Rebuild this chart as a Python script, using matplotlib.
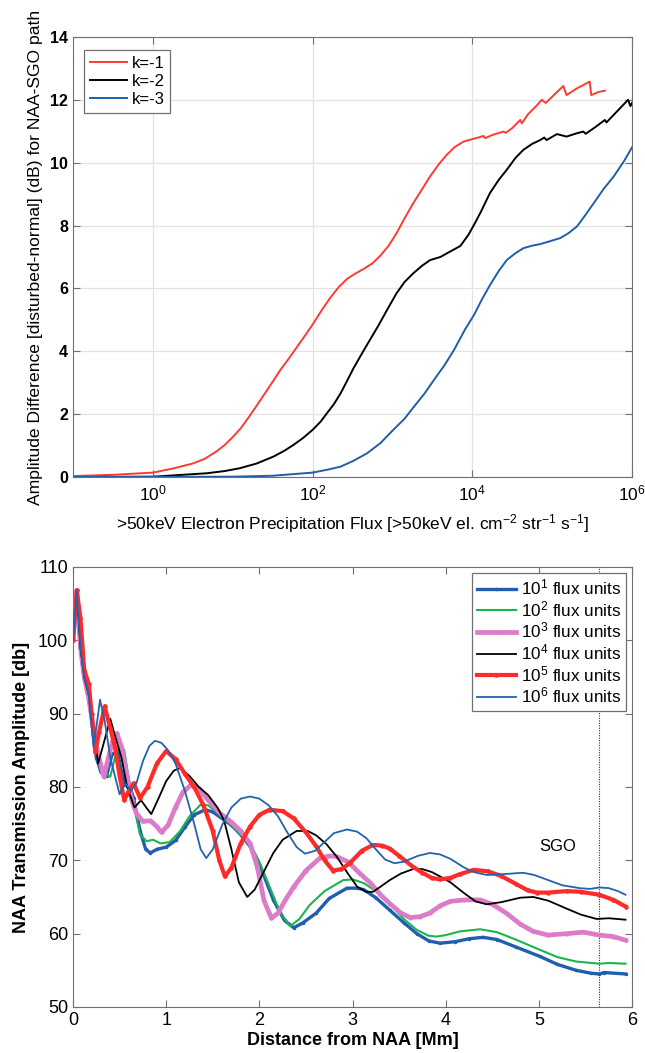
import matplotlib
matplotlib.use("Agg")
import matplotlib.pyplot as plt
from matplotlib.ticker import FixedLocator, NullLocator

plt.rcParams['font.family'] = ['Liberation Sans', 'DejaVu Sans']
plt.rcParams['mathtext.fontset'] = 'custom'
plt.rcParams['mathtext.rm'] = 'Liberation Sans'
plt.rcParams['mathtext.it'] = 'Liberation Sans:italic'
plt.rcParams['mathtext.bf'] = 'Liberation Sans:bold'

# ---------------- Top panel data (log10 flux, dB) ----------------
k1_logflux = [-1.0, -0.5, 0.0, 0.25, 0.5, 0.65, 0.8, 0.9, 1.0, 1.1, 1.2, 1.3, 1.4, 1.5, 1.6,
              1.7, 1.8, 1.9, 2.0, 2.1, 2.22, 2.33, 2.43, 2.54, 2.64, 2.75, 2.84, 2.95, 3.05,
              3.15, 3.26, 3.37, 3.47, 3.58, 3.68, 3.78, 3.89, 4.0, 4.1, 4.14, 4.16, 4.25, 4.39,
              4.42, 4.5, 4.6, 4.62, 4.7, 4.8, 4.87, 4.92, 5.0, 5.14, 5.18, 5.3, 5.47, 5.49,
              5.58, 5.66]
k1_db = [0.03, 0.07, 0.14, 0.27, 0.43, 0.58, 0.82, 1.02, 1.27, 1.55, 1.9, 2.27, 2.65, 3.03, 3.42,
         3.76, 4.12, 4.48, 4.85, 5.25, 5.7, 6.05, 6.3, 6.48, 6.62, 6.8, 7.02, 7.35, 7.75,
         8.22, 8.71, 9.15, 9.56, 9.95, 10.25, 10.5, 10.67, 10.75, 10.82, 10.85, 10.78, 10.88, 10.99,
         10.95, 11.1, 11.36, 11.25, 11.55, 11.8, 12.0, 11.9, 12.1, 12.44, 12.15, 12.35, 12.58, 12.15,
         12.25, 12.29]

k2_logflux = [-1.0, 0.0, 0.68, 0.9, 1.09, 1.3, 1.51, 1.65, 1.76, 1.88, 2.0, 2.1, 2.18, 2.27,
              2.35, 2.43, 2.51, 2.6, 2.68, 2.75, 2.82, 2.94, 3.05, 3.15, 3.26, 3.37, 3.47, 3.6,
              3.72, 3.85, 3.95, 4.01, 4.1, 4.22, 4.33, 4.43, 4.54, 4.64, 4.75, 4.85, 4.9, 4.93,
              5.06, 5.18, 5.3, 5.39, 5.42, 5.55, 5.66, 5.68, 5.8, 5.95, 5.98, 6.0]
k2_db = [0.0, 0.01, 0.12, 0.19, 0.28, 0.43, 0.65, 0.84, 1.02, 1.24, 1.5, 1.76, 2.03, 2.33,
         2.66, 3.05, 3.45, 3.85, 4.2, 4.5, 4.8, 5.35, 5.84, 6.2, 6.48, 6.72, 6.9, 7.0,
         7.17, 7.35, 7.7, 7.97, 8.4, 9.03, 9.45, 9.77, 10.15, 10.41, 10.6, 10.72, 10.8, 10.72,
         10.91, 10.83, 10.93, 10.99, 10.92, 11.15, 11.36, 11.28, 11.6, 12.0, 11.8, 11.9]

k3_logflux = [-1.0, 1.0, 1.5, 2.0, 2.2, 2.35, 2.5, 2.68, 2.85, 3.01, 3.15, 3.27, 3.4, 3.52,
              3.65, 3.77, 3.91, 4.02, 4.12, 4.22, 4.33, 4.43, 4.54, 4.64, 4.75, 4.85, 4.97,
              5.1, 5.2, 5.31, 5.42, 5.52, 5.64, 5.77, 5.9, 6.0]
k3_db = [0.0, 0.01, 0.04, 0.14, 0.24, 0.33, 0.5, 0.75, 1.08, 1.5, 1.85, 2.24, 2.65, 3.09,
         3.55, 4.04, 4.7, 5.15, 5.65, 6.1, 6.55, 6.9, 7.12, 7.28, 7.36, 7.41, 7.5,
         7.6, 7.75, 7.97, 8.35, 8.71, 9.15, 9.56, 10.05, 10.49]

k_labels = ['k=-1', 'k=-2', 'k=-3']
k_colors = ['#ff3b30', '#000000', '#1f5fa8']

x_tick_exponents = [0, 2, 4, 6]
y_ticks_top = [0, 2, 4, 6, 8, 10, 12, 14]

# ---------------- Bottom panel data (distance Mm, dB) ----------------
d_f1 = [0, 0.04, 0.08, 0.12, 0.17, 0.22, 0.25, 0.3, 0.36, 0.42, 0.48, 0.52, 0.56, 0.6, 0.65,
        0.72, 0.78, 0.83, 0.9, 1.0, 1.1, 1.2, 1.3, 1.42, 1.5, 1.6, 1.7, 1.8, 1.9, 2.0, 2.15,
        2.27, 2.37, 2.47, 2.61, 2.75, 2.94, 3.05, 3.12, 3.25, 3.4, 3.55, 3.69, 3.82, 3.94, 4.1,
        4.25, 4.4, 4.55, 4.75, 5.01, 5.2, 5.4, 5.56, 5.65, 5.7, 5.93]
a_f1 = [100, 106.8, 99, 95, 92, 87, 84, 82, 81.5, 84.5, 84.8, 82, 80.2, 80.5, 78.5,
        74, 71.5, 71, 71.5, 71.8, 72.7, 74.5, 76.2, 76.9, 76.6, 75.7, 74.8, 73.5, 71.9, 69.5, 64.6,
        61.8, 60.8, 61.5, 62.8, 64.8, 66.2, 66.2, 66.0, 64.9, 63.2, 61.5, 60.0, 59.0, 58.7, 58.9,
        59.3, 59.5, 59.2, 58.2, 56.9, 55.8, 55.0, 54.6, 54.5, 54.7, 54.5]

d_f2 = [0, 0.04, 0.08, 0.12, 0.17, 0.22, 0.27, 0.33, 0.40, 0.45, 0.51, 0.55, 0.6, 0.66, 0.72,
        0.79, 0.86, 0.94, 1.04, 1.15, 1.25, 1.37, 1.45, 1.55, 1.7, 1.8, 1.9, 2.0, 2.11, 2.22,
        2.33, 2.43, 2.54, 2.7, 2.9, 3.0, 3.12, 3.25, 3.4, 3.55, 3.69, 3.82, 3.9, 4.0, 4.15, 4.37,
        4.55, 4.75, 5.01, 5.2, 5.4, 5.65, 5.75, 5.93]
a_f2 = [100, 106.8, 99, 95, 92, 87, 84, 82, 81.4, 84, 85.8, 85, 81, 77, 73.5,
        72.6, 72.8, 72.3, 72.5, 74, 76, 77.6, 77.5, 76.5, 74.8, 73.5, 72.3, 69.8, 66.4, 63.0,
        61.0, 62.0, 63.9, 65.8, 67.3, 67.4, 66.9, 65.8, 64.1, 62.0, 60.5, 59.7, 59.6, 59.8, 60.3, 60.6,
        60.2, 59.2, 57.8, 56.8, 56.2, 55.9, 56.0, 55.9]

d_f3 = [0, 0.04, 0.08, 0.12, 0.17, 0.22, 0.27, 0.33, 0.38, 0.43, 0.47, 0.52, 0.58, 0.63, 0.68,
        0.75, 0.83, 0.9, 0.95, 1.02, 1.1, 1.18, 1.27, 1.35, 1.45, 1.58, 1.7, 1.8, 1.9, 1.98,
        2.05, 2.13, 2.2, 2.28, 2.37, 2.5, 2.65, 2.75, 2.83, 2.95, 3.08, 3.2, 3.3, 3.4, 3.52,
        3.62, 3.72, 3.83, 3.94, 4.05, 4.2, 4.37, 4.5, 4.65, 4.8, 4.94, 5.1, 5.3, 5.48, 5.65,
        5.8, 5.93]
a_f3 = [100, 106.8, 99, 95, 92, 88, 84.5, 81.4, 84, 86.5, 87.3, 85.5, 81.5, 78.2, 76.4,
        75.3, 75.4, 74.6, 73.8, 74.8, 77.2, 79.3, 80.3, 79.8, 78.2, 76.4, 75.2, 74, 72.3, 69,
        64.5, 62.1, 62.8, 64.6, 66.4, 68.6, 70.3, 70.6, 70.5, 69.8, 68.2, 66.8, 65.3, 64.1, 62.8,
        62.2, 62.3, 62.8, 63.8, 64.4, 64.6, 64.6, 64.0, 62.8, 61.3, 60.3, 59.8, 60.0, 60.2, 59.8,
        59.6, 59.1]

d_f4 = [0, 0.04, 0.08, 0.12, 0.17, 0.22, 0.27, 0.33, 0.4, 0.45, 0.52, 0.58, 0.66, 0.73, 0.78,
        0.84, 0.92, 1.0, 1.08, 1.15, 1.25, 1.35, 1.45, 1.55, 1.62, 1.7, 1.78, 1.87, 1.95, 2.05,
        2.15, 2.25, 2.4, 2.52, 2.61, 2.72, 2.83, 2.95, 3.05, 3.15, 3.22, 3.3, 3.4, 3.52, 3.65,
        3.75, 3.85, 3.94, 4.05, 4.2, 4.32, 4.44, 4.6, 4.8, 4.94, 5.1, 5.3, 5.45, 5.62, 5.75, 5.93]
a_f4 = [100, 106.8, 99, 95, 92.5, 88, 83.2, 86, 89.3, 87, 84, 80, 77.2, 78.2, 77.3,
        76.3, 78.5, 80.8, 82.2, 82.6, 81.5, 80, 78.9, 77.2, 75.5, 71.5, 67, 65, 66, 68.5,
        71, 72.8, 74.0, 74.0, 73.4, 72.2, 70.5, 68.2, 66.4, 65.7, 65.7, 66.4, 67.3, 68.2, 68.8,
        68.8, 68.4, 67.8, 67.0, 65.5, 64.4, 64.0, 64.3, 64.9, 65.0, 64.5, 63.4, 62.6, 62.0, 62.1, 61.9]

d_f5 = [0, 0.04, 0.08, 0.12, 0.17, 0.2, 0.24, 0.28, 0.34, 0.4, 0.45, 0.5, 0.55, 0.6, 0.65,
        0.72, 0.8, 0.9, 1.0, 1.1, 1.2, 1.3, 1.4, 1.5, 1.57, 1.63, 1.7, 1.8, 1.9, 2.0, 2.11,
        2.25, 2.37, 2.5, 2.61, 2.7, 2.79, 2.88, 2.97, 3.1, 3.22, 3.32, 3.4, 3.5, 3.65, 3.75,
        3.85, 3.94, 4.05, 4.15, 4.3, 4.45, 4.59, 4.75, 4.88, 4.98, 5.1, 5.3, 5.45, 5.65, 5.8, 5.93]
a_f5 = [100, 106.8, 103, 96, 94, 90, 84.8, 87.5, 91, 88, 85.5, 81.5, 78.2, 79.5, 80.5,
        78.5, 80, 83.2, 84.9, 83.8, 81.8, 80, 77.5, 74, 70, 67.8, 69, 72.3, 74.6, 76.2, 76.9,
        76.7, 75.7, 73.8, 71.9, 70, 68.6, 68.8, 69.6, 71.3, 72.1, 72.0, 71.6, 70.6, 69.1, 68.3,
        67.6, 67.4, 67.6, 68.1, 68.7, 68.5, 67.9, 66.8, 65.9, 65.6, 65.6, 65.8, 65.7, 65.3, 64.6, 63.7]

d_f6 = [0, 0.04, 0.08, 0.12, 0.17, 0.22, 0.26, 0.29, 0.34, 0.40, 0.45, 0.50, 0.56, 0.62, 0.68,
        0.75, 0.82, 0.88, 0.95, 1.02, 1.1, 1.2, 1.3, 1.37, 1.43, 1.5, 1.6, 1.7, 1.8, 1.9, 2.0,
        2.1, 2.2, 2.3, 2.4, 2.49, 2.6, 2.7, 2.8, 2.94, 3.05, 3.15, 3.25, 3.35, 3.45, 3.55, 3.7,
        3.83, 3.94, 4.05, 4.2, 4.3, 4.44, 4.6, 4.83, 4.95, 5.1, 5.25, 5.44, 5.55, 5.65, 5.75,
        5.85, 5.93]
a_f6 = [100, 106.8, 99, 95, 92.5, 85.5, 89, 91.9, 89, 84, 81.5, 79.0, 80.5, 79.5, 80.5,
        83.5, 85.6, 86.3, 86.0, 85.0, 83.2, 79.5, 75, 71.5, 70.3, 71.5, 74.8, 77.2, 78.4, 78.7, 78.4,
        77.5, 76.0, 73.8, 71.8, 70.9, 71.3, 72.5, 73.7, 74.2, 73.9, 73.0, 71.5, 70.1, 69.6, 69.8, 70.6,
        71.0, 70.8, 70.2, 69.0, 68.4, 68.0, 68.1, 68.3, 68.0, 67.3, 66.6, 66.2, 66.1, 66.3, 66.2,
        65.8, 65.3]

flux_labels = [r'$10^{1}$ flux units', r'$10^{2}$ flux units', r'$10^{3}$ flux units',
               r'$10^{4}$ flux units', r'$10^{5}$ flux units', r'$10^{6}$ flux units']
flux_colors = ['#1f5fad', '#1db34f', '#dc7cc8', '#000000', '#ff2a2a', '#2363ad']
sgo_distance = 5.65
x_ticks_bottom = [0, 1, 2, 3, 4, 5, 6]
y_ticks_bottom = [50, 60, 70, 80, 90, 100, 110]

# ---------------- Figure ----------------
fig = plt.figure(figsize=(6.45, 10.53), dpi=100)
spine_col = '#707070'

# Top panel
ax1 = fig.add_axes([0.1132, 0.547, 0.8667, 0.4179])
for lf, db, lab, col in zip([k1_logflux, k2_logflux, k3_logflux], [k1_db, k2_db, k3_db],
                            k_labels, k_colors):
    ax1.plot([10 ** v for v in lf], db, color=col, lw=1.4, label=lab)
ax1.set_xscale('log')
ax1.set_xlim(1e-1, 1e6)
ax1.set_ylim(0, 14)
ax1.xaxis.set_major_locator(FixedLocator([10.0 ** e for e in x_tick_exponents]))
ax1.xaxis.set_minor_locator(NullLocator())
ax1.set_xticklabels([r'$10^{%d}$' % e for e in x_tick_exponents])
ax1.set_yticks(y_ticks_top)
ax1.grid(True, color='#e3e3e3', lw=0.9)
ax1.set_axisbelow(True)
ax1.tick_params(direction='in', top=True, right=True, length=5, color=spine_col)
ax1.tick_params(axis='x', labelsize=12.5, pad=5)
ax1.tick_params(axis='y', labelsize=11.5)
for t in ax1.get_yticklabels():
    t.set_fontweight('bold')
for s in ax1.spines.values():
    s.set_color(spine_col)
ax1.set_xlabel(r'>50keV Electron Precipitation Flux [>50keV el. cm$^{-2}$ str$^{-1}$ s$^{-1}$]',
               fontsize=12.5, labelpad=6)
ax1.set_ylabel('Amplitude Difference [disturbed-normal] (dB) for NAA-SGO path', fontsize=12.6,
               labelpad=5)
leg1 = ax1.legend(loc='upper left', fontsize=12, handlelength=2.2, borderpad=0.35,
                  labelspacing=0.2, handletextpad=0.3, fancybox=False, framealpha=1,
                  bbox_to_anchor=(0.005, 0.99))
leg1.get_frame().set_edgecolor(spine_col)
leg1.get_frame().set_linewidth(0.9)

# Bottom panel
ax2 = fig.add_axes([0.1132, 0.0437, 0.8667, 0.4179])
ax2.axvline(sgo_distance, color='#333333', lw=0.8, ls=(0, (1, 1.2)), zorder=1)
series = [(d_f1, a_f1), (d_f2, a_f2), (d_f3, a_f3), (d_f4, a_f4), (d_f5, a_f5), (d_f6, a_f6)]
styles = [dict(lw=2.4, marker='.', ms=3),
          dict(lw=1.5),
          dict(lw=3.4, marker='.', ms=4),
          dict(lw=1.3),
          dict(lw=3.0, marker='.', ms=4.5),
          dict(lw=1.3)]
zorders = [3, 4, 5, 6, 7, 8]
for (dd, aa), lab, col, st, z in zip(series, flux_labels, flux_colors, styles, zorders):
    ax2.plot(dd, aa, color=col, label=lab, zorder=z, **st)
ax2.set_xlim(0, 6)
ax2.set_ylim(50, 110)
ax2.set_xticks(x_ticks_bottom)
ax2.set_yticks(y_ticks_bottom)
ax2.tick_params(direction='in', top=True, right=True, length=5, color=spine_col, labelsize=13)
for s in ax2.spines.values():
    s.set_color(spine_col)
ax2.set_xlabel('Distance from NAA [Mm]', fontsize=13, fontweight='bold', labelpad=2)
ax2.set_ylabel('NAA Transmission Amplitude [db]', fontsize=13, fontweight='bold', labelpad=6)
ax2.text(5.2, 71.9, 'SGO', fontsize=12, ha='center', va='center')
leg2 = ax2.legend(loc='upper right', fontsize=12.3, handlelength=2.3, borderpad=0.3,
                  labelspacing=0.1, handletextpad=0.3, fancybox=False, framealpha=1,
                  borderaxespad=0.0, bbox_to_anchor=(0.99, 0.987))
leg2.get_frame().set_edgecolor(spine_col)
leg2.get_frame().set_linewidth(0.9)
leg2.set_zorder(20)

fig.savefig('out.png', dpi=100)
